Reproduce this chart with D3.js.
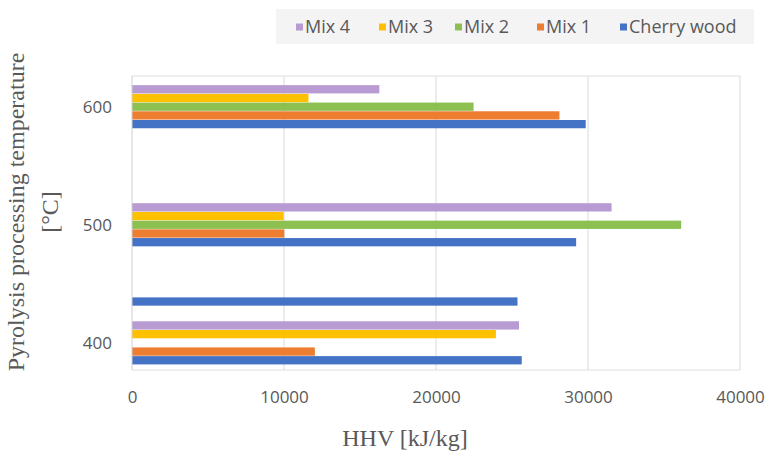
<!DOCTYPE html>
<html>
<head>
<meta charset="utf-8">
<script src="https://cdn.jsdelivr.net/npm/d3@7"></script>
<style>
  html, body { margin: 0; padding: 0; background: #ffffff; }
  svg { display: block; }
</style>
</head>
<body>
<svg id="chart" width="766" height="452"></svg>
<script>
// Pyrolysis temperatures (°C) and HHV (kJ/kg) per material
const temperatures = [400, 500, 600];
const seriesNames = ["Cherry wood", "Mix 1", "Mix 2", "Mix 3", "Mix 4"];
const cherryWood = [25640, 29220, 29850];
const mix1 = [12030, 10020, 28120];
const mix2 = [null, 36130, 22470];
const mix3 = [23940, 9980, 11610];
const mix4 = [25460, 31550, 16270];
// additional Cherry wood measurement plotted between 400 and 500 °C
const extraTemperatures = [435];
const extraCherryWood = [25360];
const xTickValues = [0, 10000, 20000, 30000, 40000];
const seriesColors = ["#4472c4", "#ed7d31", "#8cc152", "#ffc000", "#b79bd2"];

const seriesValues = [cherryWood, mix1, mix2, mix3, mix4];
const svg = d3.select("#chart");

const plot = { left: 132, right: 740, top: 76, bottom: 370 };

const x = d3.scaleLinear().domain([0, 40000]).range([plot.left, plot.right]);
const y = d3.scaleLinear().domain([377, 626]).range([plot.bottom, plot.top]);
// bars inside one temperature group: Cherry wood lowest, Mix 4 on top
const inner = d3.scaleBand()
  .domain(seriesNames.slice().reverse())
  .range([-22, 22])
  .padding(0.05);
const color = d3.scaleOrdinal().domain(seriesNames).range(seriesColors);

// plot frame and vertical gridlines
const grid = svg.append("g");
grid.selectAll("line.v")
  .data(xTickValues.slice(1))
  .join("line")
  .attr("x1", d => x(d)).attr("x2", d => x(d))
  .attr("y1", plot.top).attr("y2", plot.bottom)
  .attr("stroke", "#d9d9d9").attr("stroke-width", 1);
grid.selectAll("line.h")
  .data([plot.top, plot.bottom])
  .join("line")
  .attr("x1", plot.left).attr("x2", plot.right)
  .attr("y1", d => d).attr("y2", d => d)
  .attr("stroke", "#dedede").attr("stroke-width", 1);

// bars
const rows = [];
temperatures.forEach((t, i) => {
  seriesNames.forEach((s, j) => {
    const v = seriesValues[j][i];
    if (v != null) rows.push({ temp: t, series: s, value: v });
  });
});
extraTemperatures.forEach((t, i) => {
  rows.push({ temp: t, series: "Cherry wood", value: extraCherryWood[i], extra: true });
});

svg.append("g").selectAll("rect")
  .data(rows)
  .join("rect")
  .attr("x", x(0))
  .attr("y", d => y(d.temp) + (d.extra ? -inner.bandwidth() / 2 : inner(d.series)))
  .attr("width", d => x(d.value) - x(0))
  .attr("height", inner.bandwidth())
  .attr("fill", d => color(d.series));

// left axis line
svg.append("line")
  .attr("x1", plot.left).attr("x2", plot.left)
  .attr("y1", plot.top).attr("y2", plot.bottom)
  .attr("stroke", "#cfcfcf");

// axes
const tickFont = "'Open Sans', 'Liberation Sans', sans-serif";
const yAxis = svg.append("g")
  .attr("transform", `translate(${plot.left},0)`)
  .call(d3.axisLeft(y).tickValues(temperatures).tickSize(0).tickPadding(20));
const xAxis = svg.append("g")
  .attr("transform", `translate(0,${plot.bottom})`)
  .call(d3.axisBottom(x).tickValues(xTickValues).tickSize(0).tickPadding(21).tickFormat(d3.format("d")));
[yAxis, xAxis].forEach(a => {
  a.select(".domain").remove();
  a.selectAll("text")
    .attr("font-family", tickFont)
    .attr("font-size", 17)
    .attr("fill", "#595959");
});

// axis titles
const titleFont = "'Liberation Serif', 'DejaVu Serif', serif";
svg.append("text")
  .attr("x", 405).attr("y", 446)
  .attr("text-anchor", "middle")
  .attr("font-family", titleFont)
  .attr("font-size", 24)
  .attr("fill", "#595959")
  .text("HHV [kJ/kg]");

const yTitle = svg.append("text")
  .attr("transform", "translate(0,212) rotate(-90)")
  .attr("text-anchor", "middle")
  .attr("font-family", titleFont)
  .attr("font-size", 24)
  .attr("fill", "#595959");
yTitle.append("tspan").attr("x", 0).attr("y", 24).text("Pyrolysis processing temperature");
yTitle.append("tspan").attr("x", 0).attr("y", 58).text("[°C]");

// legend (reverse series order)
const legend = svg.append("g");
legend.append("rect")
  .attr("x", 276).attr("y", 9)
  .attr("width", 478).attr("height", 35)
  .attr("fill", "#f4f4f4");
const legendX = [296, 379, 455, 537, 620];
const legendItems = legend.selectAll("g.item")
  .data(seriesNames.slice().reverse())
  .join("g")
  .attr("transform", (d, i) => `translate(${legendX[i]},27)`);
legendItems.append("rect")
  .attr("x", 0).attr("y", -3.5)
  .attr("width", 7).attr("height", 7)
  .attr("fill", d => color(d));
legendItems.append("text")
  .attr("x", 9).attr("y", 0).attr("dy", "0.35em")
  .attr("font-family", tickFont)
  .attr("font-size", 18)
  .attr("fill", "#595959")
  .text(d => d);
</script>
</body>
</html>
